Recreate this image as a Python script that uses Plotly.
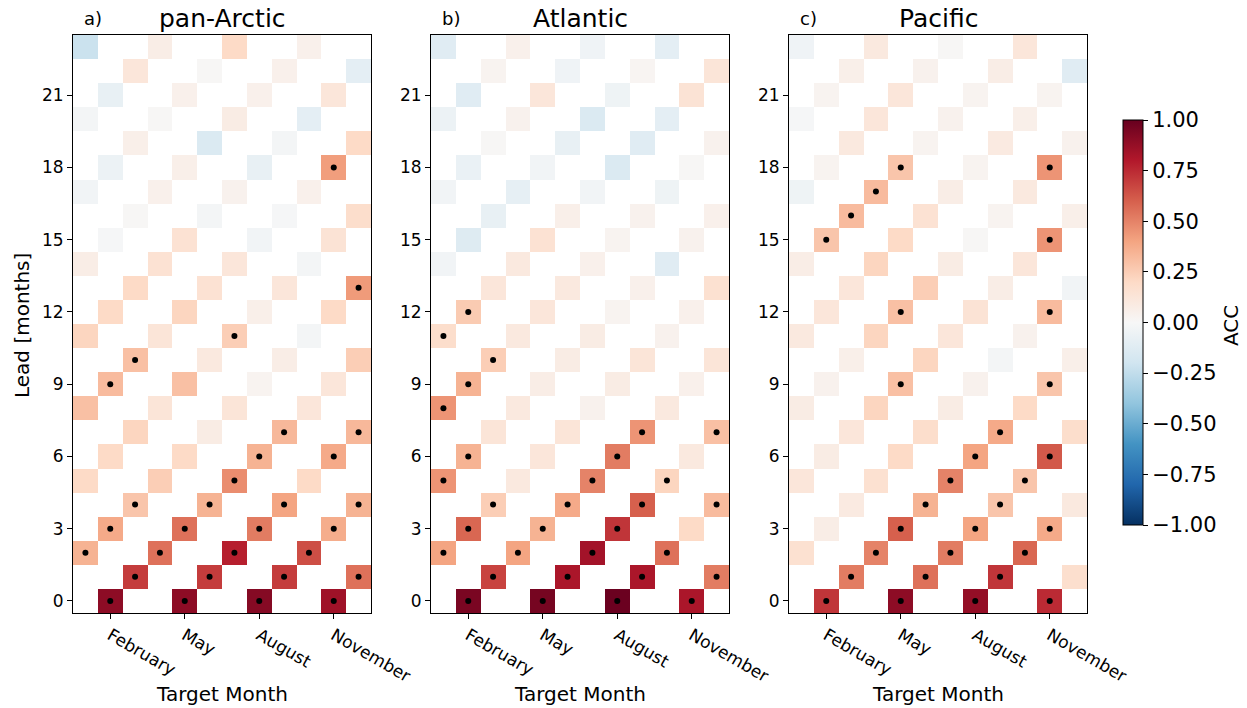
import plotly.graph_objects as go

# ---------------- data ----------------
MONTHS = ["January", "February", "March", "April", "May", "June", "July",
          "August", "September", "October", "November", "December"]
TICK_MONTHS = ["February", "May", "August", "November"]
LEADS = list(range(24))
LEAD_TICKS = [0, 3, 6, 9, 12, 15, 18, 21]
PANEL_TITLES = ["pan-Arctic", "Atlantic", "Pacific"]
PANEL_LETTERS = ["a)", "b)", "c)"]
CBAR_TICKS = [1.0, 0.75, 0.5, 0.25, 0.0, -0.25, -0.5, -0.75, -1.0]
CBAR_LABELS = ["1.00", "0.75", "0.50", "0.25", "0.00", "\u22120.25", "\u22120.50", "\u22120.75", "\u22121.00"]

# ACC per lead (0..23); the 4 values of each lead are the 4 verified target months,
# in calendar order (target months shift by one month per lead step)
ACC_PAN_ARCTIC = [
    [0.90, 0.90, 0.92, 0.85],
    [0.70, 0.70, 0.70, 0.55],
    [0.35, 0.55, 0.78, 0.65],
    [0.38, 0.55, 0.52, 0.37],
    [0.28, 0.35, 0.40, 0.35],
    [0.20, 0.25, 0.47, 0.20],
    [0.20, 0.20, 0.35, 0.38],
    [0.22, 0.08, 0.33, 0.33],
    [0.30, 0.13, 0.13, 0.12],
    [0.32, 0.30, 0.03, 0.12],
    [0.30, 0.10, 0.07, 0.25],
    [0.22, 0.13, 0.25, -0.02],
    [0.20, 0.22, 0.06, 0.20],
    [0.20, 0.15, 0.12, 0.43],
    [0.07, 0.15, 0.12, -0.02],
    [-0.01, 0.15, -0.03, 0.14],
    [0.01, -0.02, -0.01, 0.18],
    [-0.03, 0.05, 0.04, 0.05],
    [-0.06, 0.06, -0.08, 0.42],
    [0.06, -0.15, -0.02, 0.20],
    [-0.02, 0.01, 0.08, -0.10],
    [-0.08, 0.05, 0.05, 0.12],
    [0.12, 0.01, 0.05, -0.10],
    [-0.22, 0.07, 0.20, 0.05],
]
ACC_ATLANTIC = [
    [0.95, 0.96, 0.99, 0.82],
    [0.68, 0.82, 0.82, 0.52],
    [0.40, 0.40, 0.84, 0.55],
    [0.58, 0.35, 0.72, 0.20],
    [0.25, 0.38, 0.60, 0.32],
    [0.45, 0.10, 0.50, 0.22],
    [0.35, 0.12, 0.52, 0.10],
    [0.13, 0.13, 0.45, 0.30],
    [0.45, 0.10, 0.04, 0.10],
    [0.35, 0.07, 0.08, 0.05],
    [0.25, 0.08, 0.13, 0.13],
    [0.18, 0.10, 0.08, 0.04],
    [0.26, 0.12, 0.03, 0.05],
    [0.12, 0.10, 0.05, 0.16],
    [-0.03, 0.10, 0.05, -0.12],
    [-0.13, 0.15, 0.03, 0.04],
    [-0.08, 0.06, 0.04, 0.05],
    [-0.03, -0.09, -0.03, -0.05],
    [-0.07, -0.03, -0.15, 0.01],
    [0.01, -0.08, -0.12, 0.04],
    [-0.06, 0.04, -0.15, -0.10],
    [-0.12, 0.12, -0.05, 0.14],
    [0.03, -0.04, 0.02, 0.13],
    [-0.12, 0.05, -0.04, -0.10],
]
ACC_PACIFIC = [
    [0.72, 0.90, 0.88, 0.75],
    [0.52, 0.55, 0.72, 0.17],
    [0.16, 0.50, 0.52, 0.58],
    [0.07, 0.60, 0.40, 0.38],
    [0.09, 0.35, 0.28, 0.10],
    [0.12, 0.16, 0.50, 0.28],
    [0.08, 0.20, 0.40, 0.62],
    [0.12, 0.18, 0.38, 0.18],
    [0.08, 0.22, 0.08, 0.20],
    [0.04, 0.30, 0.04, 0.28],
    [0.06, 0.22, -0.02, 0.06],
    [0.10, 0.22, 0.12, 0.04],
    [0.12, 0.30, 0.14, 0.32],
    [0.12, 0.25, 0.07, -0.03],
    [0.07, 0.22, 0.08, 0.12],
    [0.28, 0.20, 0.01, 0.45],
    [0.32, 0.15, 0.03, 0.06],
    [-0.05, 0.32, 0.07, 0.10],
    [0.03, 0.28, 0.03, 0.45],
    [0.10, 0.03, 0.09, 0.04],
    [-0.01, 0.12, 0.04, 0.06],
    [0.03, 0.12, 0.03, 0.03],
    [0.06, 0.04, 0.07, -0.12],
    [-0.04, 0.10, 0.01, 0.12],
]

# significance (1 = dot)
SIG_PAN_ARCTIC = [
    [1, 1, 1, 1], [1, 1, 1, 1], [1, 1, 1, 1], [1, 1, 1, 1], [1, 1, 1, 1],
    [0, 0, 1, 0], [0, 0, 1, 1], [0, 0, 1, 1], [0, 0, 0, 0], [1, 0, 0, 0],
    [1, 0, 0, 0], [0, 0, 1, 0], [0, 0, 0, 0], [0, 0, 0, 1], [0, 0, 0, 0],
    [0, 0, 0, 0], [0, 0, 0, 0], [0, 0, 0, 0], [0, 0, 0, 1], [0, 0, 0, 0],
    [0, 0, 0, 0], [0, 0, 0, 0], [0, 0, 0, 0], [0, 0, 0, 0],
]
SIG_ATLANTIC = [
    [1, 1, 1, 1], [1, 1, 1, 1], [1, 1, 1, 1], [1, 1, 1, 0], [1, 1, 1, 1],
    [1, 0, 1, 1], [1, 0, 1, 0], [0, 0, 1, 1], [1, 0, 0, 0], [1, 0, 0, 0],
    [1, 0, 0, 0], [1, 0, 0, 0], [1, 0, 0, 0], [0, 0, 0, 0], [0, 0, 0, 0],
    [0, 0, 0, 0], [0, 0, 0, 0], [0, 0, 0, 0], [0, 0, 0, 0], [0, 0, 0, 0],
    [0, 0, 0, 0], [0, 0, 0, 0], [0, 0, 0, 0], [0, 0, 0, 0],
]
SIG_PACIFIC = [
    [1, 1, 1, 1], [1, 1, 1, 0], [0, 1, 1, 1], [0, 1, 1, 1], [0, 1, 1, 0],
    [0, 0, 1, 1], [0, 0, 1, 1], [0, 0, 1, 0], [0, 0, 0, 0], [0, 1, 0, 1],
    [0, 0, 0, 0], [0, 0, 0, 0], [0, 1, 0, 1], [0, 0, 0, 0], [0, 0, 0, 0],
    [1, 0, 0, 1], [1, 0, 0, 0], [0, 1, 0, 0], [0, 1, 0, 1], [0, 0, 0, 0],
    [0, 0, 0, 0], [0, 0, 0, 0], [0, 0, 0, 0], [0, 0, 0, 0],
]

# matplotlib RdBu_r
RDBU_R = ["rgb(5,48,97)", "rgb(33,102,172)", "rgb(67,147,195)", "rgb(146,197,222)",
          "rgb(209,229,240)", "rgb(247,247,247)", "rgb(253,219,199)", "rgb(244,165,130)",
          "rgb(214,96,77)", "rgb(178,24,43)", "rgb(103,0,31)"]
COLORSCALE = [[i / 10, c] for i, c in enumerate(RDBU_R)]

# ---------------- figure ----------------
W, H = 1247, 708
FONT = "DejaVu Sans"
panel_px = [(73, 371), (431, 729), (789, 1087)]
top_px, bot_px = 35, 613

fig = go.Figure()
panels = [(ACC_PAN_ARCTIC, SIG_PAN_ARCTIC), (ACC_ATLANTIC, SIG_ATLANTIC), (ACC_PACIFIC, SIG_PACIFIC)]
for i, (vals, sig) in enumerate(panels):
    sfx = "" if i == 0 else str(i + 1)
    z = [[None] * 12 for _ in LEADS]
    dx, dy = [], []
    for L in LEADS:
        c0 = (L + 1) % 3
        for k in range(4):
            c = c0 + 3 * k
            z[L][c] = vals[L][k]
            if sig[L][k]:
                dx.append(MONTHS[c])
                dy.append(L)
    fig.add_trace(go.Heatmap(z=z, x=MONTHS, y=LEADS, coloraxis="coloraxis",
                             xaxis="x" + sfx, yaxis="y" + sfx, hoverongaps=False))
    fig.add_trace(go.Scatter(x=dx, y=dy, mode="markers", showlegend=False,
                             marker=dict(color="black", size=6),
                             xaxis="x" + sfx, yaxis="y" + sfx))

    x0, x1 = panel_px[i]
    axcommon = dict(showline=True, mirror=True, linecolor="black", linewidth=1,
                    ticks="outside", ticklen=5, tickwidth=1, tickcolor="black",
                    showgrid=False, zeroline=False, automargin=False,
                    tickfont=dict(family=FONT, size=17, color="black"))
    fig.layout["xaxis" + sfx] = dict(
        domain=[x0 / W, x1 / W], anchor="y" + sfx, type="category",
        categoryorder="array", categoryarray=MONTHS, range=[-0.5, 11.5],
        tickmode="array", tickvals=TICK_MONTHS, ticktext=TICK_MONTHS, tickangle=30,
        **axcommon)
    fig.layout["yaxis" + sfx] = dict(
        domain=[1 - bot_px / H, 1 - top_px / H], anchor="x" + sfx, range=[-0.5, 23.5],
        tickmode="array", tickvals=LEAD_TICKS, ticktext=[str(v) for v in LEAD_TICKS],
        **axcommon)

    cx = (x0 + x1) / 2 / W
    fig.add_annotation(text=PANEL_TITLES[i], x=cx, y=1 - 18 / H, xref="paper", yref="paper",
                       showarrow=False, xanchor="center", yanchor="middle",
                       font=dict(family=FONT, size=25, color="black"))
    fig.add_annotation(text=PANEL_LETTERS[i], x=(x0 + 9) / W, y=1 - 18 / H, xref="paper", yref="paper",
                       showarrow=False, xanchor="left", yanchor="middle",
                       font=dict(family=FONT, size=18, color="black"))
    fig.add_annotation(text="Target Month", x=cx, y=1 - 694 / H, xref="paper", yref="paper",
                       showarrow=False, xanchor="center", yanchor="middle",
                       font=dict(family=FONT, size=20, color="black"))

fig.add_annotation(text="Lead [months]", x=22 / W, y=1 - 326 / H, xref="paper", yref="paper",
                   showarrow=False, xanchor="center", yanchor="middle", textangle=-90,
                   font=dict(family=FONT, size=20, color="black"))
fig.add_annotation(text="ACC", x=1231 / W, y=1 - 326 / H, xref="paper", yref="paper",
                   showarrow=False, xanchor="center", yanchor="middle", textangle=-90,
                   font=dict(family=FONT, size=20, color="black"))

fig.update_layout(
    width=W, height=H, autosize=False,
    margin=dict(l=0, r=0, t=0, b=0, autoexpand=False),
    paper_bgcolor="white", plot_bgcolor="white",
    showlegend=False,
    font=dict(family=FONT, color="black"),
    coloraxis=dict(
        cmin=-1, cmax=1, colorscale=COLORSCALE,
        colorbar=dict(
            xref="container", yref="container",
            x=1123 / W, xanchor="left", xpad=0, ypad=0,
            y=1 - 322.5 / H, yanchor="middle",
            len=405, lenmode="pixels", thickness=20, thicknessmode="pixels",
            outlinewidth=1, outlinecolor="black",
            ticks="outside", ticklen=5, tickcolor="black",
            tickmode="array", tickvals=CBAR_TICKS, ticktext=CBAR_LABELS,
            tickfont=dict(family=FONT, size=21, color="black"),
        ),
    ),
)

fig.write_html("out.html")
